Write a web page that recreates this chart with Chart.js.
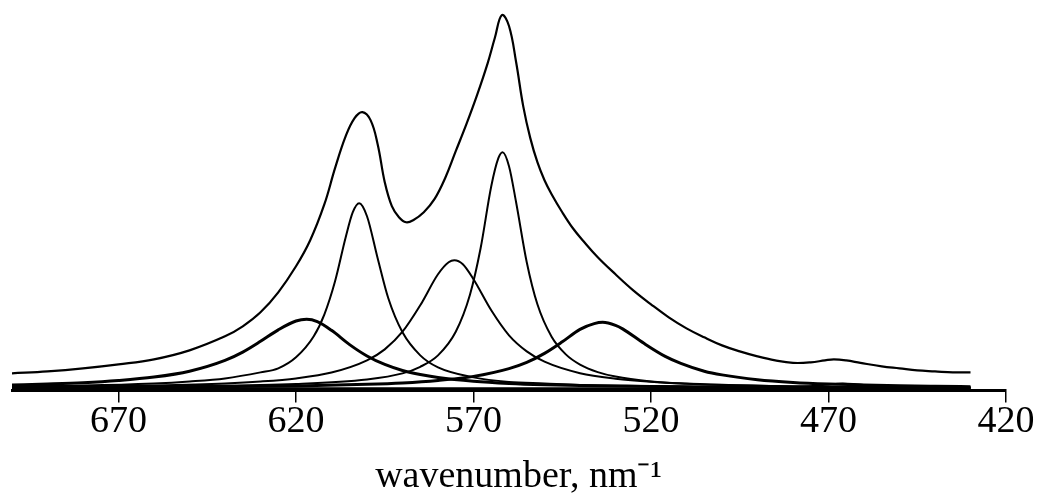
<!DOCTYPE html>
<html>
<head>
<meta charset="utf-8">
<title>wavenumber spectrum</title>
<script src="https://cdn.jsdelivr.net/npm/chart.js@4.4.1/dist/chart.umd.min.js"></script>
<style>
  html, body { margin: 0; padding: 0; background: #fff; }
  #wrap { width: 1041px; height: 503px; }
</style>
</head>
<body>
<div id="wrap"><canvas id="myChart" width="1041" height="503"></canvas></div>
<script>
// tick labels of the wavenumber axis
const tickValues = [670, 620, 570, 520, 470, 420];

// measured envelope (top curve)
const sumX = [700, 690, 680, 670, 660, 650, 640, 635, 630, 625, 620, 616, 612, 609, 606, 603.5, 601.3, 599, 597, 595, 593, 591, 589, 587, 584, 581, 578, 575, 572, 569, 566, 564, 562, 560, 558, 556, 554, 552, 550, 548, 545, 542, 539, 535, 530, 525, 520, 515, 510, 505, 500, 495, 490, 485, 480, 475, 471, 468.5, 465, 461, 455, 450, 445, 440, 435, 430];
const sumY = [15, 17, 20, 24, 29, 38, 52, 62, 76, 96, 122, 148, 184, 220, 252, 270, 276, 268, 244, 206, 182, 171, 166, 168, 176, 189, 210, 237, 264, 293, 325, 350, 373, 362, 326, 282, 250, 226, 208, 194, 176, 160, 147, 131, 114, 98, 84, 71, 60, 51, 43, 37, 32, 28, 25.5, 26, 28, 29, 28, 25.5, 22, 20, 18, 17, 16, 16];

// band 1 (broad, ~617)
const b1X = [700, 690, 680, 670, 660, 650, 640, 635, 630, 625, 620, 617, 614, 610, 605, 600, 595, 590, 585, 580, 570, 560, 550, 540, 520, 500, 480, 460, 440, 430];
const b1Y = [3.4, 4.4, 5.7, 7.9, 11.3, 17.2, 28, 36.3, 47, 58.5, 67.3, 69, 66.7, 58, 44, 32.4, 23.9, 17.9, 13.8, 10.9, 7.2, 5, 3.7, 2.9, 1.8, 1.2, 0.9, 0.7, 0.5, 0.4];

// band 2 (sharp, ~602)
const b2X = [700, 680, 660, 650, 640, 630, 625, 620, 615, 612, 609, 606, 604, 602.2, 600, 597, 594, 590, 585, 580, 570, 560, 550, 540, 520, 500, 470, 430];
const b2Y = [2.5, 3, 5, 7, 10, 16, 20, 31, 52, 74, 107, 151, 176, 185, 172, 130, 90, 56, 33, 21, 11, 6.5, 5, 3.5, 2.5, 1.5, 1, 0.6];

// band 3 (~575)
const b3X = [700, 680, 660, 640, 630, 620, 610, 600, 595, 590, 585, 580, 577, 575.4, 573, 570, 565, 560, 555, 550, 540, 530, 520, 500, 480, 460, 440, 430];
const b3Y = [1.4, 1.9, 3, 5, 6.9, 10, 15.8, 28, 39, 56.6, 83, 114, 126, 128, 124, 109, 78, 53, 37, 26.7, 15.2, 9.7, 6.7, 3.7, 2.2, 1.5, 1.1, 1];

// band 4 (sharp, ~562)
const b4X = [700, 650, 620, 600, 590, 585, 580, 575, 571, 568, 565, 563, 561.8, 560, 558, 555, 552, 548, 544, 540, 535, 530, 520, 510, 500, 480, 460, 430];
const b4Y = [1.5, 2.5, 4.5, 9, 15, 21.6, 33, 56.6, 93.6, 140, 202, 230, 236, 222, 186, 126, 84, 51.6, 34, 23.8, 16.3, 11.8, 7, 4.6, 3.3, 1.9, 1.2, 0.8];

// band 5 (broad, ~534)
const b5X = [700, 660, 640, 620, 600, 590, 580, 570, 560, 555, 550, 545, 540, 536, 533.6, 530, 528, 522, 516, 511.6, 505, 500, 490, 480, 470, 460, 450, 440, 430];
const b5Y = [0.7, 1.2, 1.7, 2.5, 4.1, 5.5, 8, 12, 19.8, 26, 35, 46.5, 59, 64.7, 66, 63, 59.5, 45, 32, 25, 17.2, 13.5, 8.7, 6, 4.4, 3.4, 2.6, 2.1, 1.7];

// band 6 (weak, ~466)
const b6X = [700, 520, 500, 490, 480, 475, 470, 466, 462, 456, 450, 440, 430];
const b6Y = [0.1, 0.2, 0.3, 0.5, 1.2, 2.2, 4, 5, 4, 2, 1, 0.5, 0.25];

function pts(xs, ys) {
    return xs.map((x, i) => ({ x: x, y: ys[i] }));
}

function band(xs, ys, w) {
    return {
        data: pts(xs, ys),
        borderColor: '#000',
        borderWidth: w,
        pointRadius: 0,
        fill: false,
        cubicInterpolationMode: 'monotone'
    };
}

// white page behind the chart
const whiteBg = {
    id: 'whiteBg',
    beforeDraw: (chart) => {
        const c = chart.ctx;
        c.save();
        c.fillStyle = '#fff';
        c.fillRect(0, 0, chart.width, chart.height);
        c.restore();
    }
};

// envelope is smoothed with the normal bezier tension
const envelope = band(sumX, sumY, 2.2);
envelope.cubicInterpolationMode = 'default';
envelope.tension = 0.4;

const ctx = document.getElementById('myChart');
const myChart = new Chart(ctx, {
    type: 'line',
    data: {
        datasets: [
            band(b1X, b1Y, 3),
            band(b2X, b2Y, 2),
            band(b3X, b3Y, 2),
            band(b4X, b4Y, 2),
            band(b5X, b5Y, 3),
            band(b6X, b6Y, 2),
            envelope
        ]
    },
    options: {
        responsive: false,
        animation: false,
        layout: {
            padding: { left: 12, right: 35, top: 0, bottom: 3 }
        },
        plugins: {
            legend: { display: false },
            tooltip: { enabled: false }
        },
        scales: {
            x: {
                type: 'linear',
                reverse: true,
                min: 420,
                max: 700,
                afterBuildTicks: (axis) => {
                    axis.ticks = tickValues.map(v => ({ value: v }));
                },
                border: { display: true, color: '#000', width: 3 },
                grid: {
                    drawOnChartArea: false,
                    drawTicks: true,
                    tickLength: 12,
                    color: '#000',
                    lineWidth: 1.5
                },
                ticks: {
                    color: '#000',
                    padding: 1,
                    maxRotation: 0,
                    autoSkip: false,
                    font: { family: 'Liberation Serif', size: 38, lineHeight: 1 }
                },
                title: {
                    display: true,
                    text: '\u00a0\u00a0wavenumber, nm⁻¹',
                    color: '#000',
                    padding: { top: 12, bottom: 0 },
                    font: { family: 'Liberation Serif', size: 38 }
                }
            },
            y: {
                display: false,
                min: -2,
                max: 388
            }
        }
    },
    plugins: [whiteBg]
});
</script>
</body>
</html>
